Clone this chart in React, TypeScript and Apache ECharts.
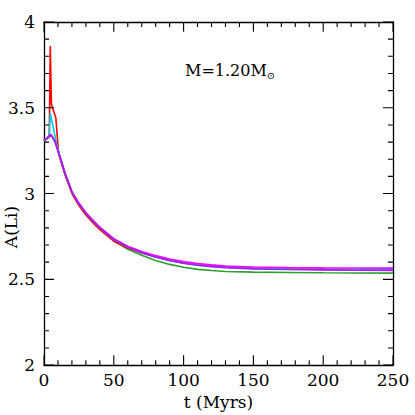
import React, { useEffect, useRef } from "react";
import * as echarts from "echarts";

// Time (Myr) and A(Li) values, per model
const redT = [0, 2, 3.8, 4.5, 5.3, 8.5, 10.5, 12, 15, 20, 25, 30, 35, 40, 50, 60, 70, 80, 90, 100, 110, 120, 130, 150, 175, 200, 225, 250];
const redV = [3.31, 3.32, 3.34, 3.86, 3.52, 3.44, 3.23, 3.19, 3.11, 3.0, 2.93, 2.875, 2.83, 2.79, 2.722, 2.682, 2.653, 2.63, 2.61, 2.595, 2.585, 2.578, 2.572, 2.565, 2.561, 2.558, 2.557, 2.556];

const cyanT = [0, 2, 3.8, 4.5, 7.5, 9, 10, 12, 15, 20, 25, 30, 35, 40, 50, 60, 70, 80, 90, 100, 110, 120, 130, 150, 175, 200, 225, 250];
const cyanV = [3.31, 3.32, 3.34, 3.47, 3.35, 3.29, 3.26, 3.2, 3.12, 3.01, 2.94, 2.885, 2.84, 2.8, 2.732, 2.688, 2.655, 2.63, 2.61, 2.594, 2.583, 2.576, 2.57, 2.564, 2.56, 2.558, 2.556, 2.555];

const greenT = [0, 2, 4, 5, 6, 8, 10, 12, 15, 20, 25, 30, 35, 40, 50, 60, 70, 80, 90, 100, 110, 120, 130, 150, 175, 200, 225, 250];
const greenV = [3.31, 3.32, 3.33, 3.34, 3.33, 3.3, 3.25, 3.2, 3.12, 3.01, 2.94, 2.882, 2.835, 2.795, 2.725, 2.675, 2.64, 2.61, 2.587, 2.57, 2.558, 2.551, 2.546, 2.542, 2.54, 2.538, 2.537, 2.536];

const purpleT = [0, 2, 4, 5, 6, 8, 10, 12, 15, 20, 25, 30, 35, 40, 50, 60, 70, 80, 90, 100, 110, 120, 130, 150, 175, 200, 225, 250];
const purpleV = [3.31, 3.32, 3.34, 3.345, 3.33, 3.3, 3.25, 3.2, 3.12, 3.01, 2.94, 2.885, 2.84, 2.8, 2.732, 2.688, 2.655, 2.63, 2.61, 2.594, 2.582, 2.574, 2.568, 2.561, 2.557, 2.555, 2.553, 2.552];

const magentaT = [0, 2, 4, 5, 6, 8, 10, 12, 15, 20, 25, 30, 35, 40, 50, 60, 70, 80, 90, 100, 110, 120, 130, 150, 175, 200, 225, 250];
const magentaV = [3.31, 3.32, 3.335, 3.34, 3.33, 3.3, 3.25, 3.2, 3.12, 3.01, 2.945, 2.89, 2.845, 2.805, 2.737, 2.693, 2.662, 2.638, 2.618, 2.603, 2.592, 2.584, 2.578, 2.572, 2.569, 2.567, 2.566, 2.565];

const xRange = { min: 0, max: 250, major: 50, minor: 10 };
const yRange = { min: 2, max: 4, major: 0.5, minor: 0.1 };

const pair = (t: number[], v: number[]) => t.map((x, i) => [x, v[i]]);

const FONT = "DejaVu Serif";
const GRID = { left: 44, top: 22, width: 349, height: 348 };
const MAJOR_PX = 10;
const MINOR_PX = 5;

// tick positions: [value, isMajor]
const tickList = (r: { min: number; max: number; major: number; minor: number }) => {
  const out: number[][] = [];
  const n = Math.round((r.max - r.min) / r.minor);
  const per = Math.round(r.major / r.minor);
  for (let i = 0; i <= n; i++) {
    out.push([+(r.min + i * r.minor).toFixed(6), i % per === 0 ? 1 : 0]);
  }
  return out;
};

// inward tick segments on all four sides, as a broken line in data space
const buildTicks = () => {
  const xPerPx = (xRange.max - xRange.min) / GRID.width;
  const yPerPx = (yRange.max - yRange.min) / GRID.height;
  const gap: any = ["-", "-"];
  const pts: any[] = [];
  tickList(xRange).forEach(([v, major]) => {
    const l = (major ? MAJOR_PX : MINOR_PX) * yPerPx;
    pts.push([v, yRange.min], [v, yRange.min + l], gap);
    pts.push([v, yRange.max], [v, yRange.max - l], gap);
  });
  tickList(yRange).forEach(([v, major]) => {
    const l = (major ? MAJOR_PX : MINOR_PX) * xPerPx;
    pts.push([xRange.min, v], [xRange.min + l, v], gap);
    pts.push([xRange.max, v], [xRange.max - l, v], gap);
  });
  return pts;
};

export default function App() {
  const ref = useRef<HTMLDivElement>(null);
  useEffect(() => {
    document.body.style.margin = "0";
    const chart = echarts.init(ref.current!, undefined, { renderer: "svg" });
    const labelStyle = { color: "#000", fontFamily: FONT, fontSize: 17 };
    const frameLine = { show: true, onZero: false, lineStyle: { color: "#000", width: 1.3 } };

    const axis = (r: any, position: string, extra: any) => ({
      type: "value",
      min: r.min,
      max: r.max,
      interval: r.major,
      position,
      axisLine: frameLine,
      axisTick: { show: false },
      splitLine: { show: false },
      axisLabel: { show: false },
      ...extra,
    });

    const mk = (name: string, color: string, t: number[], v: number[]) => ({
      name,
      type: "line",
      data: pair(t, v),
      showSymbol: false,
      symbol: "none",
      lineStyle: { color, width: 1.6 },
      itemStyle: { color },
      z: 3,
    });

    chart.setOption({
      animation: false,
      grid: { ...GRID },
      xAxis: [
        axis(xRange, "bottom", {
          axisLabel: { show: true, ...labelStyle, margin: 6 },
          name: "t (Myrs)",
          nameLocation: "middle",
          nameGap: 25,
          nameTextStyle: { ...labelStyle },
        }),
        axis(xRange, "top", {}),
      ],
      yAxis: [
        axis(yRange, "left", { axisLabel: { show: true, ...labelStyle, margin: 9 } }),
        axis(yRange, "right", {}),
      ],
      graphic: [
        {
          type: "text",
          x: 11,
          y: 227,
          rotation: Math.PI / 2,
          style: {
            text: "A(Li)",
            fill: "#000",
            font: `17px "${FONT}"`,
            align: "center",
            verticalAlign: "middle",
          },
        },
        {
          type: "text",
          x: 185,
          y: 70,
          style: {
            text: "{m|M=1.20M}{s|⊙}",
            align: "left",
            verticalAlign: "middle",
            rich: {
              m: { fontFamily: FONT, fontSize: 16, fill: "#000", color: "#000" },
              s: { fontFamily: FONT, fontSize: 10, fill: "#000", color: "#000", padding: [10, 0, 0, 0] },
            },
          },
        },
      ],
      series: [
        mk("green", "#2ca02c", greenT, greenV),
        mk("red", "#ff0000", redT, redV),
        mk("cyan", "#00c8e0", cyanT, cyanV),
        mk("magenta", "#ff00ff", magentaT, magentaV),
        mk("purple", "#a020f0", purpleT, purpleV),
        {
          name: "ticks",
          type: "line",
          data: buildTicks(),
          connectNulls: false,
          showSymbol: false,
          symbol: "none",
          silent: true,
          clip: false,
          lineStyle: { color: "#000", width: 1.1 },
          itemStyle: { color: "#000" },
          z: 4,
        },
      ],
    });
    return () => chart.dispose();
  }, []);
  return <div ref={ref} style={{ width: 415, height: 415 }} />;
}
